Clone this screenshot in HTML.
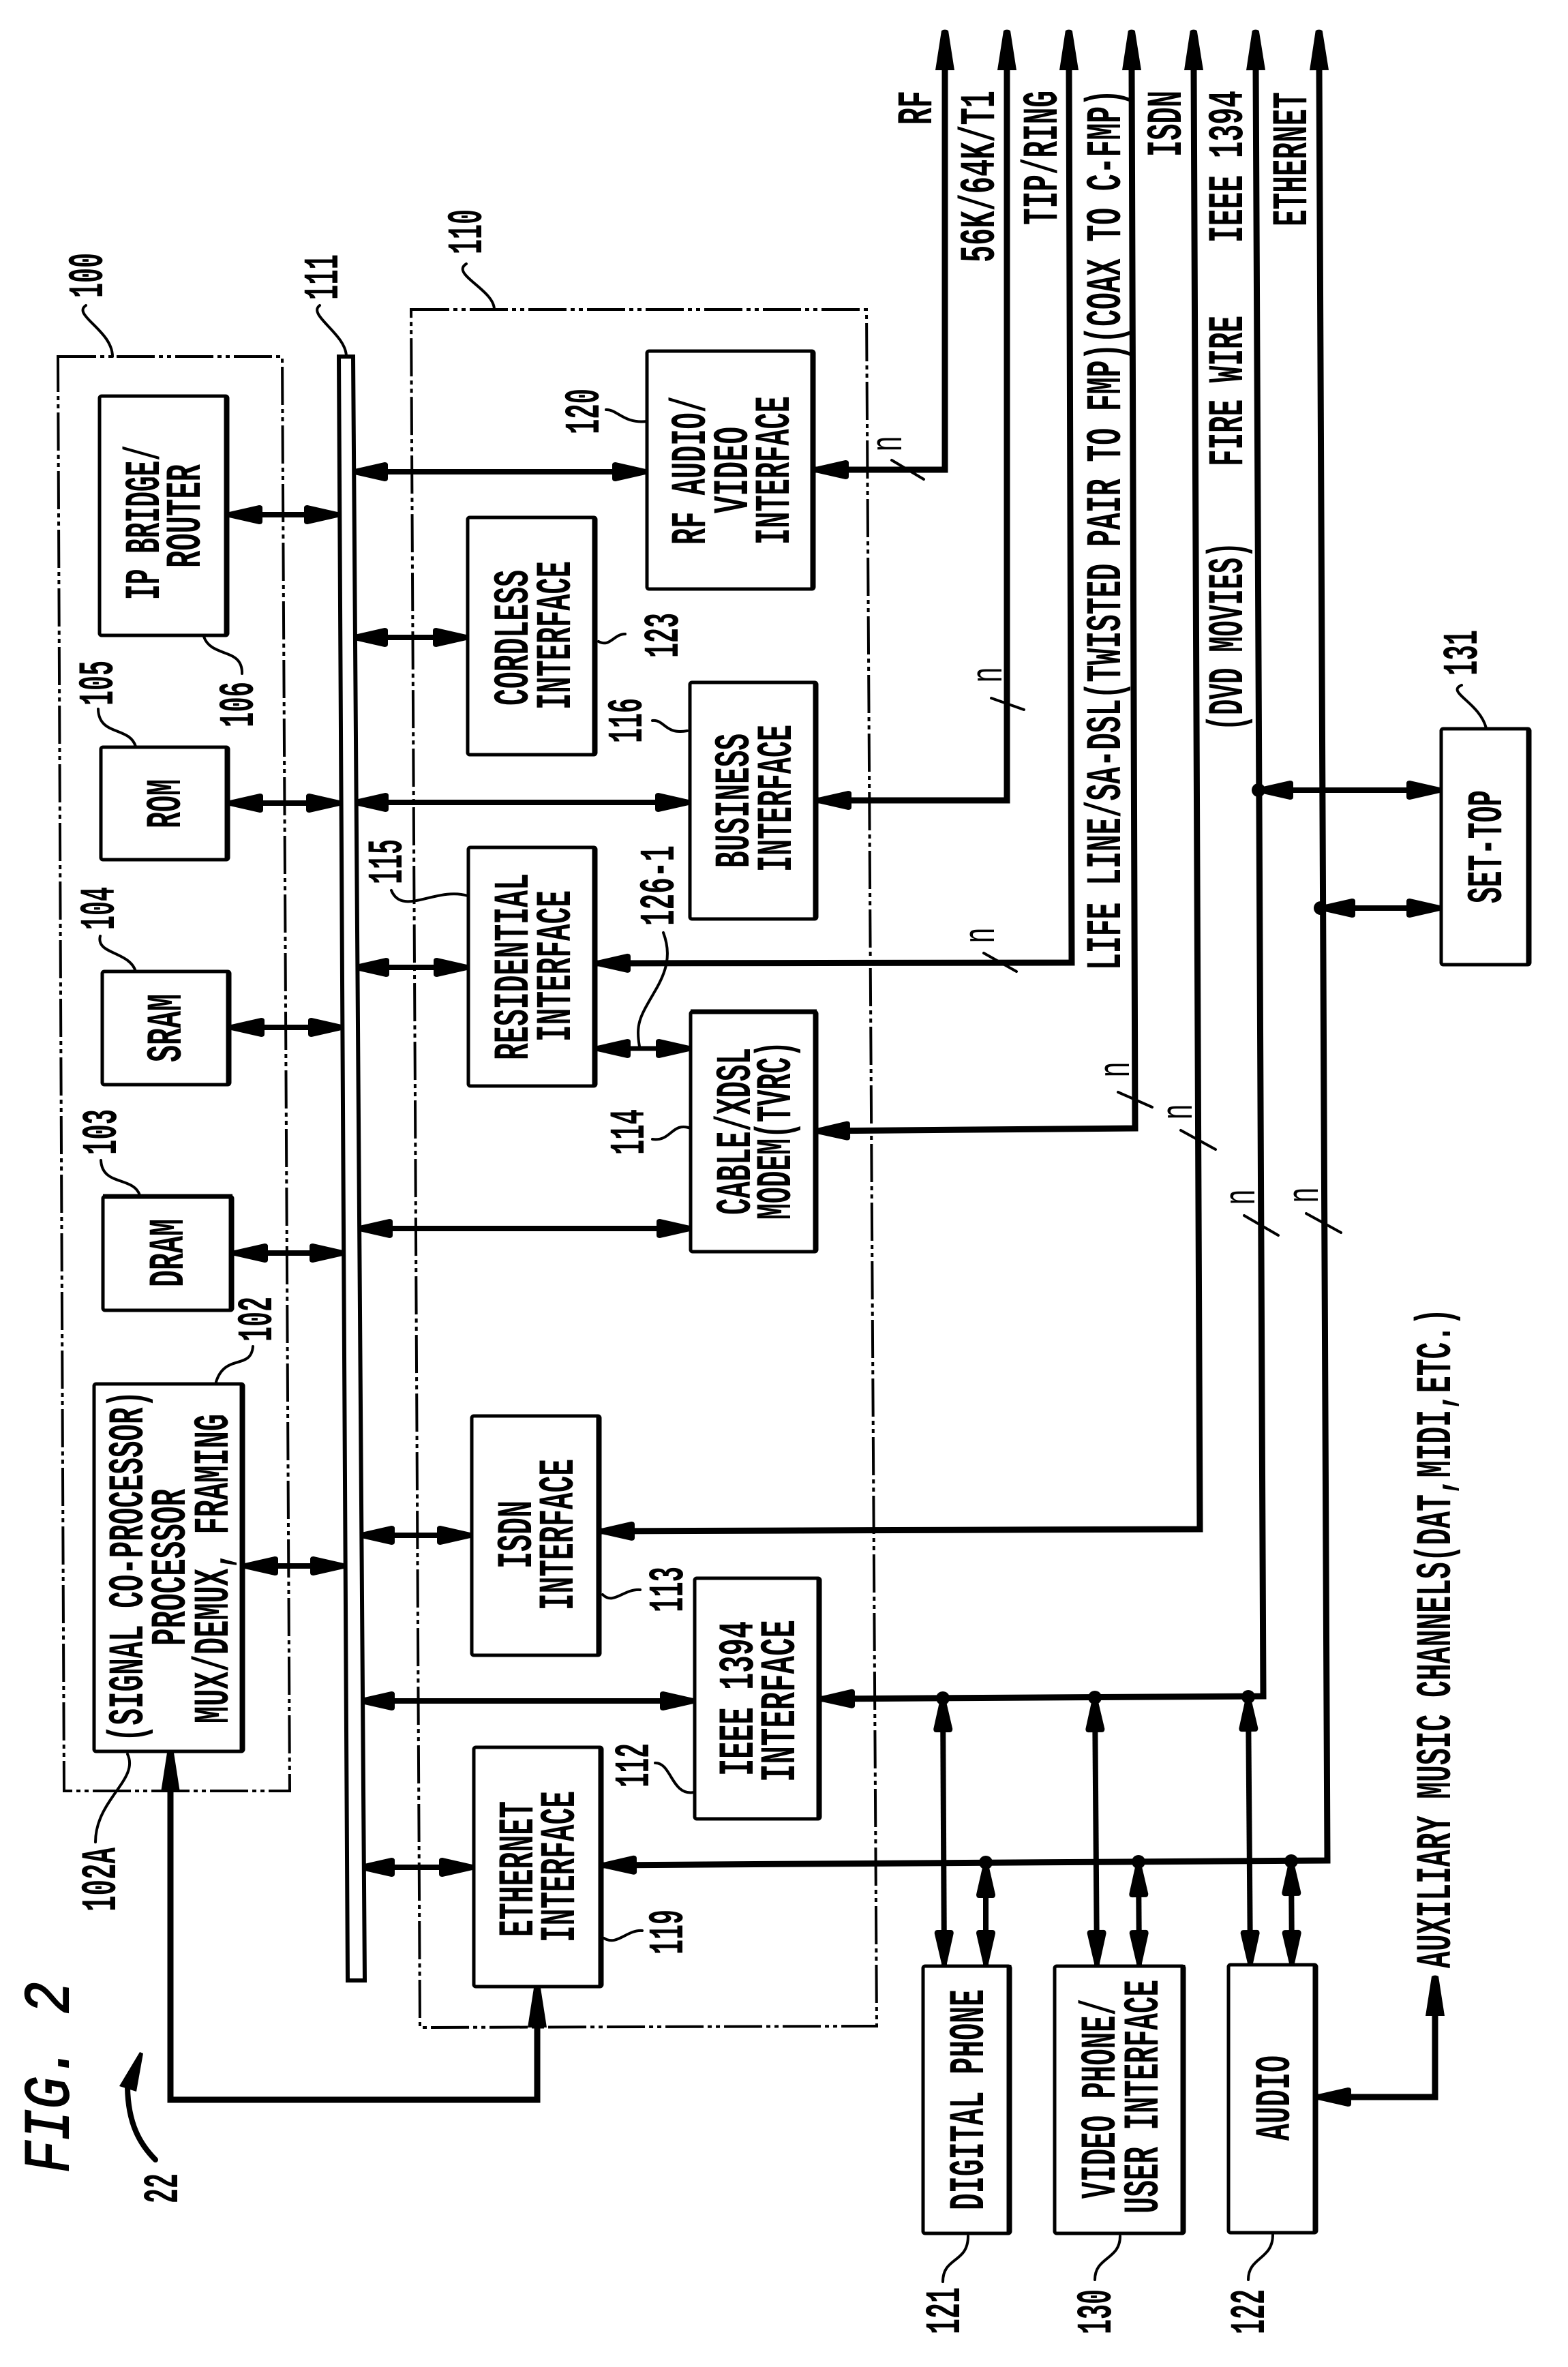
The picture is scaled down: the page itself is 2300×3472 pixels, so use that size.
<!DOCTYPE html>
<html><head><meta charset="utf-8"><style>
html,body{margin:0;padding:0;background:#fff}
svg{display:block}
text{font-family:"Liberation Mono",monospace;font-weight:bold;font-size:73px;fill:#000;stroke:none}
.n{font-family:"Liberation Sans",sans-serif;font-weight:normal;font-size:66px}
.l{fill:none;stroke:#000;stroke-width:7}
.b{fill:#fff;stroke:#000;stroke-width:5}
.h{fill:none;stroke:#000;stroke-width:8;marker-start:url(#h);marker-end:url(#h)}
.s{fill:none;stroke:#000;stroke-width:9;marker-start:url(#h);marker-end:url(#t)}
.v{fill:none;stroke:#000;stroke-width:8;marker-start:url(#h);marker-end:url(#h)}
.d{fill:none;stroke:#000;stroke-width:4;stroke-dasharray:56 6 6 6 6 6}
.c{fill:none;stroke:#000;stroke-width:4;stroke-linecap:round}
</style></head><body>
<svg width="2300" height="3472" viewBox="0 0 2300 3472" xmlns="http://www.w3.org/2000/svg">
<defs>
<marker id="h" markerUnits="userSpaceOnUse" markerWidth="60" markerHeight="30" refX="51" refY="14" orient="auto-start-reverse" overflow="visible"><path d="M0,4 Q0,0 5,0 L49,10 L51,14 L49,18 L5,28 Q0,28 0,24z" fill="#000"/></marker>
<marker id="t" markerUnits="userSpaceOnUse" markerWidth="64" markerHeight="32" refX="4" refY="14" orient="auto-start-reverse" overflow="visible"><path d="M0,0 L58,9 Q61,14 58,19 L0,28z" fill="#000"/></marker>
</defs>
<rect width="2300" height="3472" fill="#fff"/>

<polygon class="d" points="85,523 414,523 425,2627 94,2627"/>
<polygon class="d" points="603,454 1271,454 1286,2972 616,2974"/>

<!-- bus links -->
<polyline class="h" points="334,755 497,755"/>
<polyline class="h" points="335,1178 500,1178"/>
<polyline class="h" points="337,1507 503,1507"/>
<polyline class="h" points="342,1838 505,1838"/>
<polyline class="h" points="357,2297 506,2297"/>
<polyline class="h" points="518,692 949,692"/>
<polyline class="h" points="518,935 686,935"/>
<polyline class="h" points="519,1177 1012,1177"/>
<polyline class="h" points="520,1419 687,1419"/>
<polyline class="h" points="525,1802 1014,1802"/>
<polyline class="h" points="528,2252 692,2252"/>
<polyline class="h" points="528,2495 1019,2495"/>
<polyline class="h" points="528,2739 695,2739"/>
<polyline class="h" style="stroke-width:7" points="874,1538 1013,1538"/>

<!-- external lines -->
<polyline class="s" points="1194,689 1386,689 1386,99"/>
<polyline class="s" points="1198,1174 1477,1174 1477,99"/>
<polyline class="s" points="874,1413 1572,1412 1568,99"/>
<polyline class="s" points="1196,1659 1665,1655 1660,99"/>
<polyline class="s" points="880,2246 1760,2243 1751,99"/>
<polyline class="s" points="1203,2492 1853,2488 1842,99"/>
<polyline class="s" points="883,2736 1947,2729 1935,99"/>

<!-- device links -->
<polyline class="v" points="1383,2490 1385,2882"/>
<polyline class="v" points="1446,2733 1446,2882"/>
<polyline class="v" points="1606,2490 1609,2882"/>
<polyline class="v" points="1670,2732 1671,2882"/>
<polyline class="v" points="1831,2489 1834,2882"/>
<polyline class="v" points="1894,2730 1895,2882"/>
<polyline class="h" points="1846,1159 2114,1159"/>
<polyline class="h" points="1937,1332 2114,1332"/>
<circle cx="1846" cy="1159" r="10"/><circle cx="1937" cy="1332" r="10"/>
<circle cx="1383" cy="2491" r="10"/><circle cx="1606" cy="2490" r="10"/><circle cx="1831" cy="2489" r="10"/>
<circle cx="1446" cy="2732" r="10"/><circle cx="1670" cy="2731" r="10"/><circle cx="1894" cy="2730" r="10"/>

<polyline class="s" points="1931,3076 2105,3076 2105,2953"/>
<polyline class="l" points="250,2625 250,3080 788,3080 788,2970" style="stroke-width:9;marker-start:url(#t);marker-end:url(#t)"/>

<!-- bus -->
<polygon class="b" style="stroke-width:6" points="497,523 518,523 535,2905 510,2905"/>

<!-- boxes -->
<rect class="b" rx="3" x="146" y="581" width="188" height="351"/><path class="l" d="M332,581V932"/>
<rect class="b" rx="3" x="148" y="1096" width="187" height="165"/><path class="l" d="M333,1096V1261"/>
<rect class="b" rx="3" x="150" y="1425" width="187" height="166"/><path class="l" d="M335,1425V1591"/>
<rect class="b" rx="3" x="151" y="1755" width="190" height="167"/><path class="l" d="M339,1755V1922M151,1755H341"/>
<rect class="b" rx="3" x="138" y="2030" width="219" height="539"/><path class="l" d="M355,2030V2569"/>
<rect class="b" rx="3" x="686" y="759" width="188" height="348"/><path class="l" d="M872,759V1107"/>
<rect class="b" rx="3" x="687" y="1243" width="187" height="350"/><path class="l" d="M872,1243V1593"/>
<rect class="b" rx="3" x="949" y="515" width="245" height="349"/><path class="l" d="M1192,515V864"/>
<rect class="b" rx="3" x="1012" y="1001" width="186" height="347"/><path class="l" d="M1196,1001V1348"/>
<rect class="b" rx="3" x="1013" y="1484" width="185" height="352"/><path class="l" d="M1196,1484V1836M1013,1484H1198"/>
<rect class="b" rx="3" x="692" y="2077" width="188" height="351"/><path class="l" d="M878,2077V2428"/>
<rect class="b" rx="3" x="1019" y="2315" width="184" height="353"/><path class="l" d="M1201,2315V2668"/>
<rect class="b" rx="3" x="695" y="2563" width="188" height="351"/><path class="l" d="M881,2563V2914"/>
<rect class="b" rx="3" x="1354" y="2884" width="128" height="392"/><path class="l" d="M1480,2882V3276"/>
<rect class="b" rx="3" x="1547" y="2884" width="190" height="392"/><path class="l" d="M1735,2882V3276"/>
<rect class="b" rx="3" x="1802" y="2882" width="129" height="393"/><path class="l" d="M1929,2882V3275"/>
<rect class="b" rx="3" x="2114" y="1069" width="130" height="346"/><path class="l" d="M2242,1069V1415"/>

<!-- box text -->
<text transform="translate(233,880) rotate(-90)" textLength="227" lengthAdjust="spacingAndGlyphs">IP BRIDGE/</text>
<text transform="translate(293,833) rotate(-90)" textLength="152" lengthAdjust="spacingAndGlyphs">ROUTER</text>
<text transform="translate(264,1215) rotate(-90)" textLength="72" lengthAdjust="spacingAndGlyphs">ROM</text>
<text transform="translate(265,1558) rotate(-90)" textLength="100" lengthAdjust="spacingAndGlyphs">SRAM</text>
<text transform="translate(268,1888) rotate(-90)" textLength="100" lengthAdjust="spacingAndGlyphs">DRAM</text>
<text transform="translate(209,2555) rotate(-90)" textLength="515" lengthAdjust="spacingAndGlyphs">(SIGNAL CO-PROCESSOR)</text>
<text transform="translate(271,2414) rotate(-90)" textLength="230" lengthAdjust="spacingAndGlyphs">PROCESSOR</text>
<text transform="translate(334,2528) rotate(-90)" textLength="454" lengthAdjust="spacingAndGlyphs">MUX/DEMUX, FRAMING</text>
<text transform="translate(774,1035) rotate(-90)" textLength="199" lengthAdjust="spacingAndGlyphs">CORDLESS</text>
<text transform="translate(836,1041) rotate(-90)" textLength="218" lengthAdjust="spacingAndGlyphs">INTERFACE</text>
<text transform="translate(774,1555) rotate(-90)" textLength="274" lengthAdjust="spacingAndGlyphs">RESIDENTIAL</text>
<text transform="translate(836,1528) rotate(-90)" textLength="222" lengthAdjust="spacingAndGlyphs">INTERFACE</text>
<text transform="translate(1034,799) rotate(-90)" textLength="218" lengthAdjust="spacingAndGlyphs">RF AUDIO/</text>
<text transform="translate(1096,753) rotate(-90)" textLength="127" lengthAdjust="spacingAndGlyphs">VIDEO</text>
<text transform="translate(1157,799) rotate(-90)" textLength="218" lengthAdjust="spacingAndGlyphs">INTERFACE</text>
<text transform="translate(1098,1273) rotate(-90)" textLength="197" lengthAdjust="spacingAndGlyphs">BUSINESS</text>
<text transform="translate(1160,1279) rotate(-90)" textLength="216" lengthAdjust="spacingAndGlyphs">INTERFACE</text>
<text transform="translate(1100,1782) rotate(-90)" textLength="245" lengthAdjust="spacingAndGlyphs">CABLE/XDSL</text>
<text transform="translate(1159,1789) rotate(-90)" textLength="262" lengthAdjust="spacingAndGlyphs">MODEM(TVRC)</text>
<text transform="translate(779,2301) rotate(-90)" textLength="100" lengthAdjust="spacingAndGlyphs">ISDN</text>
<text transform="translate(840,2362) rotate(-90)" textLength="222" lengthAdjust="spacingAndGlyphs">INTERFACE</text>
<text transform="translate(1104,2605) rotate(-90)" textLength="227" lengthAdjust="spacingAndGlyphs">IEEE 1394</text>
<text transform="translate(1165,2614) rotate(-90)" textLength="238" lengthAdjust="spacingAndGlyphs">INTERFACE</text>
<text transform="translate(781,2841) rotate(-90)" textLength="199" lengthAdjust="spacingAndGlyphs">ETHERNET</text>
<text transform="translate(842,2849) rotate(-90)" textLength="222" lengthAdjust="spacingAndGlyphs">INTERFACE</text>
<text transform="translate(1442,3242) rotate(-90)" textLength="324" lengthAdjust="spacingAndGlyphs">DIGITAL PHONE</text>
<text transform="translate(1635,3225) rotate(-90)" textLength="293" lengthAdjust="spacingAndGlyphs">VIDEO PHONE/</text>
<text transform="translate(1698,3247) rotate(-90)" textLength="343" lengthAdjust="spacingAndGlyphs">USER INTERFACE</text>
<text transform="translate(1891,3140) rotate(-90)" textLength="125" lengthAdjust="spacingAndGlyphs">AUDIO</text>
<text transform="translate(2202,1325) rotate(-90)" textLength="166" lengthAdjust="spacingAndGlyphs">SET-TOP</text>

<!-- line labels -->
<text transform="translate(1366,183) rotate(-90)" textLength="50" lengthAdjust="spacingAndGlyphs">RF</text>
<text transform="translate(1458,385) rotate(-90)" textLength="252" lengthAdjust="spacingAndGlyphs">56K/64K/T1</text>
<text transform="translate(1550,330) rotate(-90)" textLength="197" lengthAdjust="spacingAndGlyphs">TIP/RING</text>
<text transform="translate(1643,1423) rotate(-90)" textLength="1292" lengthAdjust="spacingAndGlyphs">LIFE LINE/SA-DSL(TWISTED PAIR TO FMP)(COAX TO C-FMP)</text>
<text transform="translate(1732,230) rotate(-90)" textLength="97" lengthAdjust="spacingAndGlyphs">ISDN</text>
<text transform="translate(1822,356) rotate(-90)" textLength="223" lengthAdjust="spacingAndGlyphs">IEEE 1394</text>
<text transform="translate(1822,684) rotate(-90)" textLength="221" lengthAdjust="spacingAndGlyphs">FIRE WIRE</text>
<text transform="translate(1822,1072) rotate(-90)" textLength="277" lengthAdjust="spacingAndGlyphs">(DVD MOVIES)</text>
<text transform="translate(1916,332) rotate(-90)" textLength="197" lengthAdjust="spacingAndGlyphs">ETHERNET</text>
<text transform="translate(2127,2887) rotate(-90)" textLength="968" lengthAdjust="spacingAndGlyphs">AUXILIARY MUSIC CHANNELS(DAT,MIDI,ETC.)</text>
<text transform="translate(100,3187) rotate(-90)" textLength="280" lengthAdjust="spacingAndGlyphs" style="font-size:95px;font-style:italic;font-weight:normal;stroke:#000;stroke-width:2">FIG. 2</text>

<!-- reference numbers -->
<text transform="translate(150,437) rotate(-90)" textLength="66" lengthAdjust="spacingAndGlyphs">100</text>
<text transform="translate(495,440) rotate(-90)" textLength="67" lengthAdjust="spacingAndGlyphs">111</text>
<text transform="translate(706,373) rotate(-90)" textLength="66" lengthAdjust="spacingAndGlyphs">110</text>
<text transform="translate(878,637) rotate(-90)" textLength="67" lengthAdjust="spacingAndGlyphs">120</text>
<text transform="translate(994,965) rotate(-90)" textLength="66" lengthAdjust="spacingAndGlyphs">123</text>
<text transform="translate(371,1067) rotate(-90)" textLength="67" lengthAdjust="spacingAndGlyphs">106</text>
<text transform="translate(165,1035) rotate(-90)" textLength="66" lengthAdjust="spacingAndGlyphs">105</text>
<text transform="translate(941,1090) rotate(-90)" textLength="66" lengthAdjust="spacingAndGlyphs">116</text>
<text transform="translate(589,1297) rotate(-90)" textLength="66" lengthAdjust="spacingAndGlyphs">115</text>
<text transform="translate(167,1364) rotate(-90)" textLength="63" lengthAdjust="spacingAndGlyphs">104</text>
<text transform="translate(170,1694) rotate(-90)" textLength="67" lengthAdjust="spacingAndGlyphs">103</text>
<text transform="translate(988,1358) rotate(-90)" textLength="118" lengthAdjust="spacingAndGlyphs">126-1</text>
<text transform="translate(944,1694) rotate(-90)" textLength="67" lengthAdjust="spacingAndGlyphs">114</text>
<text transform="translate(398,1968) rotate(-90)" textLength="66" lengthAdjust="spacingAndGlyphs">102</text>
<text transform="translate(1001,2365) rotate(-90)" textLength="67" lengthAdjust="spacingAndGlyphs">113</text>
<text transform="translate(951,2622) rotate(-90)" textLength="65" lengthAdjust="spacingAndGlyphs">112</text>
<text transform="translate(1001,2867) rotate(-90)" textLength="66" lengthAdjust="spacingAndGlyphs">119</text>
<text transform="translate(169,2804) rotate(-90)" textLength="94" lengthAdjust="spacingAndGlyphs">102A</text>
<text transform="translate(260,3232) rotate(-90)" textLength="44" lengthAdjust="spacingAndGlyphs">22</text>
<text transform="translate(1407,3424) rotate(-90)" textLength="69" lengthAdjust="spacingAndGlyphs">121</text>
<text transform="translate(1629,3424) rotate(-90)" textLength="66" lengthAdjust="spacingAndGlyphs">130</text>
<text transform="translate(1854,3424) rotate(-90)" textLength="66" lengthAdjust="spacingAndGlyphs">122</text>
<text transform="translate(2166,991) rotate(-90)" textLength="67" lengthAdjust="spacingAndGlyphs">131</text>

<!-- n labels and slashes -->
<text class="n" transform="translate(1322,662) rotate(-90)" textLength="22" lengthAdjust="spacingAndGlyphs">n</text>
<text class="n" transform="translate(1469,1001) rotate(-90)" textLength="22" lengthAdjust="spacingAndGlyphs">n</text>
<text class="n" transform="translate(1458,1383) rotate(-90)" textLength="22" lengthAdjust="spacingAndGlyphs">n</text>
<text class="n" transform="translate(1656,1580) rotate(-90)" textLength="22" lengthAdjust="spacingAndGlyphs">n</text>
<text class="n" transform="translate(1748,1642) rotate(-90)" textLength="22" lengthAdjust="spacingAndGlyphs">n</text>
<text class="n" transform="translate(1840,1767) rotate(-90)" textLength="22" lengthAdjust="spacingAndGlyphs">n</text>
<text class="n" transform="translate(1933,1764) rotate(-90)" textLength="22" lengthAdjust="spacingAndGlyphs">n</text>
<path class="c" d="M1308,675L1355,703M1454,1024L1502,1041M1443,1398L1491,1425M1640,1602L1690,1624M1732,1658L1783,1686M1825,1783L1875,1812M1916,1780L1967,1808"/>

<!-- leaders -->
<path class="c" d="M126,448C105,462 165,485 165,523"/>
<path class="c" d="M469,448C450,462 508,490 508,523"/>
<path class="c" d="M684,387C660,402 725,425 725,454"/>
<path class="c" d="M889,601C905,600 915,622 949,618"/>
<path class="c" d="M299,934C310,965 356,950 355,988"/>
<path class="c" d="M878,941C895,950 900,930 917,930"/>
<path class="c" d="M144,1040C145,1080 190,1065 199,1095"/>
<path class="c" d="M957,1057C975,1055 975,1078 1008,1072"/>
<path class="c" d="M574,1306C590,1345 640,1300 686,1314"/>
<path class="c" d="M147,1373C140,1400 190,1395 199,1425"/>
<path class="c" d="M973,1368C985,1400 978,1425 960,1455C940,1490 932,1500 938,1535"/>
<path class="c" d="M957,1671C985,1675 985,1645 1013,1655"/>
<path class="c" d="M148,1702C150,1740 195,1725 205,1753"/>
<path class="c" d="M371,1975C368,2010 330,1985 317,2027"/>
<path class="c" d="M187,2573C205,2610 140,2640 140,2702"/>
<path class="c" d="M884,2339C900,2355 915,2330 939,2332"/>
<path class="c" d="M961,2586C985,2585 985,2635 1018,2629"/>
<path class="c" d="M886,2843C905,2855 920,2830 942,2832"/>
<path class="c" d="M1420,3280C1420,3320 1383,3310 1383,3347"/>
<path class="c" d="M1643,3280C1643,3315 1606,3310 1606,3344"/>
<path class="c" d="M1867,3278C1867,3315 1831,3310 1831,3344"/>
<path class="c" d="M2144,1005C2120,1015 2170,1030 2180,1068"/>
<path class="c" style="stroke-width:8" d="M228,3168C205,3145 188,3115 187,3062"/>
<polygon points="205,3010 175,3060 200,3068 210,3012"/>
</svg>
</body></html>
